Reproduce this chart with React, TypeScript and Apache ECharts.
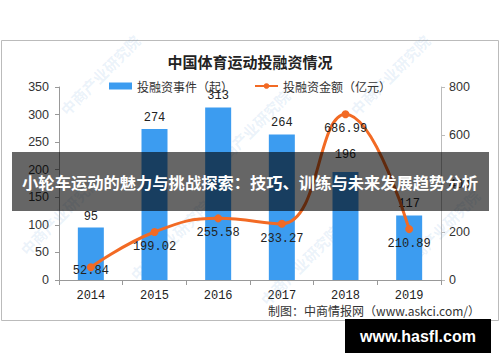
import React, { useEffect, useRef } from 'react';
import * as echarts from 'echarts';

const years = ['2014', '2015', '2016', '2017', '2018', '2019'];
const eventCounts = [95, 274, 313, 264, 196, 117];
const amounts = [52.84, 199.02, 255.58, 233.27, 686.99, 210.89];
const barName = '投融资事件（起）';
const lineName = '投融资金额（亿元）';
const chartTitle = '中国体育运动投融资情况';
const bannerText = '小轮车运动的魅力与挑战探索：技巧、训练与未来发展趋势分析';
const sourceText = '制图：中商情报网（www.askci.com/）';
const siteText = 'www.hasfl.com';
const watermarkText = '中商产业研究院';
const watermarkSpots = [
  [100, 75], [250, 130], [390, 75], [60, 215], [170, 240], [300, 265], [440, 230]
];

export default function App() {
  const ref = useRef<HTMLDivElement>(null);
  useEffect(() => {
    const chart = echarts.init(ref.current!, null, { renderer: 'svg' });
    const cjk = '"Noto Sans CJK SC", "Noto Sans", sans-serif';
    const mono = '"Liberation Mono", "DejaVu Sans Mono", monospace';
    const wm = watermarkSpots.map(([x, y]) => ({
      type: 'text',
      x,
      y,
      rotation: Math.PI / 4,
      z: 1,
      silent: true,
      style: {
        text: watermarkText,
        fill: 'rgba(110,165,215,0.14)',
        font: 'bold 15px ' + cjk,
        align: 'center',
        verticalAlign: 'middle'
      }
    }));
    chart.setOption({
      animation: false,
      backgroundColor: '#fff',
      title: {
        text: chartTitle,
        left: 'center',
        top: 49,
        textStyle: { fontSize: 15, fontWeight: 'bold', color: '#222', fontFamily: cjk }
      },
      legend: {
        left: 104,
        top: 75,
        itemWidth: 23,
        itemHeight: 7,
        itemGap: 21,
        textStyle: { fontSize: 12, color: '#333', fontFamily: cjk },
        data: [{ name: barName, icon: 'rect' }, { name: lineName }]
      },
      grid: { left: 59, right: 59, top: 87, bottom: 82 },
      xAxis: {
        type: 'category',
        data: years,
        axisLine: { lineStyle: { color: '#999' } },
        axisTick: { show: true, length: 5, lineStyle: { color: '#999' } },
        axisLabel: { margin: 10, fontSize: 12, color: '#222', fontFamily: mono }
      },
      yAxis: [
        {
          type: 'value',
          min: 0,
          max: 350,
          interval: 50,
          splitLine: { show: false },
          axisLine: { show: true, lineStyle: { color: '#999' } },
          axisTick: { show: true, length: 4, lineStyle: { color: '#999' } },
          axisLabel: { margin: 10, fontSize: 12.5, color: '#333', fontFamily: '"Liberation Sans", Arial, sans-serif' }
        },
        {
          type: 'value',
          min: 0,
          max: 800,
          interval: 200,
          splitLine: { show: false },
          axisLine: { show: true, lineStyle: { color: '#bbb' } },
          axisTick: { show: true, length: 4, lineStyle: { color: '#bbb' } },
          axisLabel: { margin: 8, fontSize: 12.5, color: '#333', fontFamily: '"Liberation Sans", Arial, sans-serif' }
        }
      ],
      series: [
        {
          name: barName,
          type: 'bar',
          data: eventCounts.map((v, i) => (i === 4 ? { value: v, label: { offset: [0, -6] } } : v)),
          barWidth: 26,
          itemStyle: { color: '#3C9CF0' },
          label: { show: true, position: 'top', distance: 5, fontSize: 12, color: '#222', fontFamily: mono },
          z: 2
        },
        {
          name: lineName,
          type: 'line',
          yAxisIndex: 1,
          data: amounts.map((v, i) => (i === 0 ? { value: v, label: { offset: [0, -11] } } : v)),
          smooth: 0.45,
          symbol: 'circle',
          symbolSize: 8,
          itemStyle: { color: '#F26A24' },
          lineStyle: { color: '#F26A24', width: 3 },
          label: { show: true, position: 'bottom', distance: 5, fontSize: 12, color: '#222', fontFamily: mono },
          z: 3
        }
      ],
      graphic: [
        {
          type: 'rect',
          shape: { x: 1.5, y: 40.5, width: 497, height: 280 },
          style: { fill: 'none', stroke: '#bbb', lineWidth: 1 },
          z: 0
        },
        ...wm,
        {
          type: 'text',
          x: 480,
          y: 310,
          z: 5,
          style: {
            text: sourceText,
            fill: '#333',
            font: '12px ' + cjk,
            align: 'right',
            verticalAlign: 'middle'
          }
        },
        {
          type: 'rect',
          shape: { x: 12, y: 152, width: 477, height: 59 },
          style: { fill: 'rgba(0,0,0,0.6)' },
          z: 100
        },
        {
          type: 'text',
          x: 250,
          y: 182,
          z: 101,
          style: {
            text: bannerText,
            fill: '#fff',
            font: 'bold 16.3px ' + cjk,
            align: 'center',
            verticalAlign: 'middle'
          }
        },
        {
          type: 'rect',
          shape: { x: 345, y: 319, width: 146, height: 34 },
          style: { fill: '#000' },
          z: 100
        },
        {
          type: 'text',
          x: 418,
          y: 336,
          z: 101,
          style: {
            text: siteText,
            fill: '#fff',
            font: 'bold 16px "Liberation Sans Narrow", "Liberation Sans", Arial, sans-serif',
            align: 'center',
            verticalAlign: 'middle'
          }
        }
      ]
    });
    return () => chart.dispose();
  }, []);
  return <div ref={ref} style={{ position: 'fixed', left: 0, top: 0, width: 500, height: 362 }} />;
}
